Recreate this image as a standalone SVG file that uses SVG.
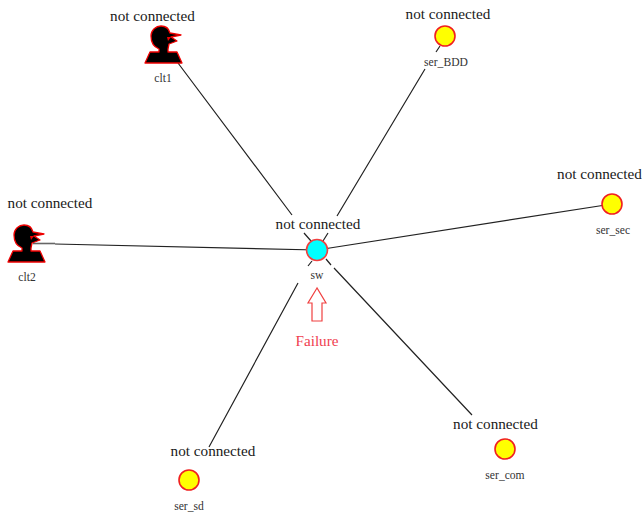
<svg xmlns="http://www.w3.org/2000/svg" width="642" height="516" viewBox="0 0 642 516">
<style>
.st{font-family:"Liberation Serif","Times New Roman",serif;font-size:15.2px;fill:#1a1a1a;text-anchor:middle}
.nm{font-family:"Liberation Serif","Times New Roman",serif;font-size:11.6px;fill:#333;text-anchor:middle}
.ln{stroke:#222;stroke-width:1.2;fill:none}
.srv{fill:#ffff00;stroke:#f02020;stroke-width:1.6}
</style>
<defs>
<g id="person">
<path d="M-19,19 L-14,8 L-5,8 L-5,5 C-10,3 -13,-2 -13,-8 C-13,-14 -8,-18 -3,-18 C2,-18 5,-15 6,-11 L17,-9 L7,-7 L13,-3 L5,0 L4,5 L4,8 L13,8 L18,19 Z" fill="#000" stroke="#f00000" stroke-width="1.3" stroke-linejoin="round"/>
<path d="M3,-7 L7,-7 L4,-3 Z" fill="#f00000"/>
</g>
</defs>
<rect width="642" height="516" fill="#ffffff"/>
<g id="connectors">
<path class="ln" d="M178,63 L292,215 M304,233 L311,241"/>
<path class="ln" d="M440,46 L436,52 M425,69 L337,216 M328,233 L323,241"/>
<path class="ln" d="M612,204 L317,250"/>
<path class="ln" d="M55,244 L317,250"/>
<path d="M33,243.5 L55,243.5" stroke="#666" stroke-width="1.6" fill="none"/>
<path class="ln" d="M312,261 L308,266 M298,283 L209,447"/>
<path class="ln" d="M326,259 L331,265 M334,268 L472,415"/>
</g>
<g id="clt1">
<use href="#person" x="164" y="44"/>
<text class="st" x="152.500" y="21">not connected</text>
<text class="nm" x="163" y="82">clt1</text>
</g>
<g id="clt2">
<use href="#person" x="27" y="243"/>
<text class="st" x="50" y="208">not connected</text>
<text class="nm" x="27" y="281">clt2</text>
</g>
<g id="ser_BDD">
<circle class="srv" cx="445" cy="36" r="10"/>
<text class="st" x="448" y="19">not connected</text>
<text class="nm" x="446" y="66">ser_BDD</text>
</g>
<g id="ser_sec">
<circle class="srv" cx="612" cy="204" r="10"/>
<text class="st" x="599.500" y="179">not connected</text>
<text class="nm" x="613" y="234">ser_sec</text>
</g>
<g id="ser_com">
<circle class="srv" cx="505" cy="449" r="10"/>
<text class="st" x="495.500" y="429">not connected</text>
<text class="nm" x="505" y="479">ser_com</text>
</g>
<g id="ser_sd">
<circle class="srv" cx="189" cy="480" r="10"/>
<text class="st" x="213" y="456">not connected</text>
<text class="nm" x="189" y="510">ser_sd</text>
</g>
<g id="sw">
<circle cx="317" cy="250" r="10.500" fill="#00ffff" stroke="#f04040" stroke-width="1.6"/>
<text class="st" x="318" y="229">not connected</text>
<text class="nm" x="317" y="279">sw</text>
</g>
<g id="failure">
<path d="M317,288 L308,303 L312,303 L312,321 L322,321 L322,303 L326,303 Z" fill="#fff" stroke="#f04040" stroke-width="1.2"/>
<text x="317" y="346" font-family="Liberation Serif, Times New Roman, serif" font-size="15.2" fill="#f04050" text-anchor="middle">Failure</text>
</g>
</svg>
